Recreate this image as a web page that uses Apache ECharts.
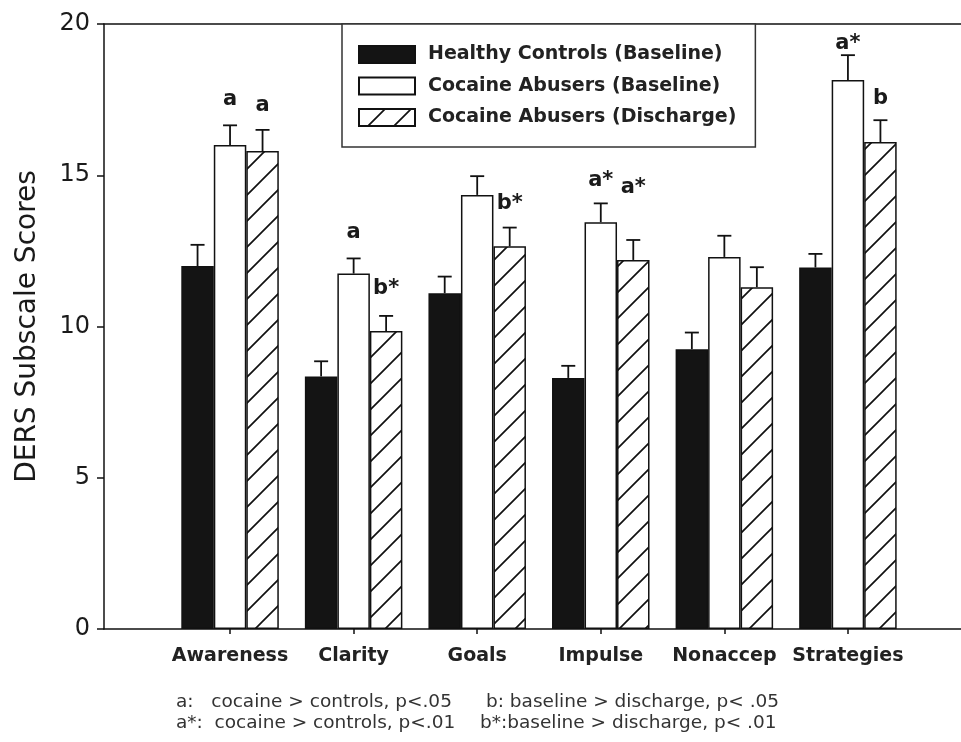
<!DOCTYPE html>
<html>
<head>
<meta charset="utf-8">
<script src="https://cdn.jsdelivr.net/npm/echarts@6/dist/echarts.min.js"></script>
<style>
  html, body { margin: 0; padding: 0; background: #fff; }
  #main { width: 961px; height: 742px; }
</style>
</head>
<body>
<div id="main"></div>
<script>
// data
var categories = ['Awareness', 'Clarity', 'Goals', 'Impulse', 'Nonaccep', 'Strategies'];
var seriesNames = ['Healthy Controls (Baseline)', 'Cocaine Abusers (Baseline)', 'Cocaine Abusers (Discharge)'];

var controls = [12.0, 8.35, 11.1, 8.3, 9.25, 11.95];
var controlsErr = [0.7, 0.5, 0.55, 0.4, 0.55, 0.45];
var cocaineBase = [16.0, 11.75, 14.35, 13.45, 12.3, 18.15];
var cocaineBaseErr = [0.65, 0.5, 0.62, 0.62, 0.7, 0.82];
var cocaineDis = [15.8, 9.85, 12.65, 12.2, 11.3, 16.1];
var cocaineDisErr = [0.7, 0.5, 0.62, 0.66, 0.66, 0.72];

// significance marks and where they sit (y value of the text)
var marksBase = ['a', 'a', '', 'a*', '', 'a*'];
var marksBaseY = [17.49, 13.09, null, 14.84, null, 19.37];
var marksDis = ['a', 'b*', 'b*', 'a*', '', 'b'];
var marksDisY = [17.32, 11.27, 14.08, 14.58, null, 17.55];

var yTicks = [0, 5, 10, 15, 20];
var notes = [
    ['a:   cocaine > controls, p<.05', 'b: baseline > discharge, p< .05'],
    ['a*:  cocaine > controls, p<.01', 'b*:baseline > discharge, p< .01']
];

var FONT = 'DejaVu Sans';
var BAR_W = 32.5;

function hatch() {
    var s = 26;
    var c = document.createElement('canvas');
    c.width = s; c.height = s;
    var ctx = c.getContext('2d');
    ctx.fillStyle = '#fff';
    ctx.fillRect(0, 0, s, s);
    ctx.strokeStyle = '#111';
    ctx.lineWidth = 1.7;
    ctx.beginPath();
    ctx.moveTo(-2, s + 2); ctx.lineTo(s + 2, -2);
    ctx.moveTo(-2, 2); ctx.lineTo(2, -2);
    ctx.moveTo(s - 2, s + 2); ctx.lineTo(s + 2, s - 2);
    ctx.stroke();
    return c;
}

function pairs(vals) {
    return vals.map(function (v, i) { return [i, v]; });
}

var fills = ['#141414', '#ffffff', { image: hatch(), repeat: 'repeat' }];
var means = [controls, cocaineBase, cocaineDis];
var errs = [controlsErr, cocaineBaseErr, cocaineDisErr];
var marks = [null, marksBase, marksDis];
var marksY = [null, marksBaseY, marksDisY];
var offsets = [-BAR_W, 0, BAR_W];

var dom = document.getElementById('main');
var myChart = echarts.init(dom, null, { renderer: 'canvas' });

var series = [];
seriesNames.forEach(function (name, k) {
    series.push({
        name: name,
        type: 'bar',
        xAxisIndex: 0,
        barWidth: BAR_W,
        barGap: '0%',
        itemStyle: { color: fills[k], borderColor: '#111', borderWidth: 1.5 },
        emphasis: { disabled: true },
        data: pairs(means[k])
    });
});
seriesNames.forEach(function (name, k) {
    series.push({
        type: 'custom',
        xAxisIndex: 0,
        z: 5,
        silent: true,
        data: means[k].map(function (m, i) { return [i, m, errs[k][i]]; }),
        renderItem: function (params, api) {
            var i = api.value(0), m = api.value(1), e = api.value(2);
            var p0 = api.coord([i, m]);
            var p1 = api.coord([i, m + e]);
            var x = p0[0] + offsets[k];
            var st = { stroke: '#111', lineWidth: 1.8 };
            var kids = [
                { type: 'line', shape: { x1: x, y1: p0[1], x2: x, y2: p1[1] }, style: st },
                { type: 'line', shape: { x1: x - 7, y1: p1[1], x2: x + 7, y2: p1[1] }, style: st }
            ];
            if (marks[k] && marks[k][params.dataIndex]) {
                var pt = api.coord([i, marksY[k][params.dataIndex]]);
                kids.push({
                    type: 'text',
                    style: {
                        x: x, y: pt[1], text: marks[k][params.dataIndex],
                        align: 'center', verticalAlign: 'middle',
                        font: 'bold 21px "' + FONT + '"', fill: '#1a1a1a'
                    }
                });
            }
            return { type: 'group', children: kids };
        }
    });
});

var graphics = [];
notes.forEach(function (row, r) {
    graphics.push({ type: 'text', left: 176, top: 693 + r * 21, style: { text: row[0], font: '18.5px "' + FONT + '"', fill: '#333' } });
    graphics.push({ type: 'text', left: r === 0 ? 486 : 480, top: 693 + r * 21, style: { text: row[1], font: '18.5px "' + FONT + '"', fill: '#333' } });
});

var option = {
    animation: false,
    backgroundColor: '#fff',
    textStyle: { fontFamily: FONT },
    grid: { left: 104, right: 0, top: 24, bottom: 113, containLabel: false },
    legend: {
        data: seriesNames,
        orient: 'vertical',
        left: 342,
        top: 24,
        icon: 'rect',
        itemWidth: 56,
        itemHeight: 17,
        itemGap: 12.5,
        padding: [21, 19, 20, 16],
        borderColor: '#333',
        borderWidth: 1.5,
        backgroundColor: '#fff',
        selectedMode: false,
        textStyle: { fontSize: 19, fontWeight: 'bold', color: '#222', fontFamily: FONT, padding: [0, 0, 0, 8] }
    },
    xAxis: [
        {
            type: 'value',
            min: -1.02,
            max: 5.915,
            splitLine: { show: false },
            axisLine: { onZero: false, lineStyle: { color: '#111', width: 1.5 } },
            axisTick: { customValues: [0, 1, 2, 3, 4, 5], length: 5, lineStyle: { color: '#111', width: 1.5 } },
            axisLabel: {
                customValues: [0, 1, 2, 3, 4, 5],
                margin: 18,
                fontSize: 19,
                fontWeight: 'bold',
                color: '#222',
                formatter: function (v) { return categories[Math.round(v)] || ''; }
            }
        },
        {
            type: 'value',
            position: 'top',
            min: -1.02,
            max: 5.915,
            splitLine: { show: false },
            axisLine: { show: true, onZero: false, lineStyle: { color: '#111', width: 1.5 } },
            axisTick: { show: false },
            axisLabel: { show: false }
        }
    ],
    yAxis: {
        type: 'value',
        min: yTicks[0],
        max: yTicks[yTicks.length - 1],
        interval: 5,
        name: 'DERS Subscale Scores',
        nameLocation: 'middle',
        nameGap: 62,
        nameTextStyle: { fontSize: 28, color: '#1a1a1a' },
        splitLine: { show: false },
        axisLine: { show: true, onZero: false, lineStyle: { color: '#111', width: 1.5 } },
        axisTick: { show: true, length: 7, lineStyle: { color: '#111', width: 1.5 } },
        axisLabel: { margin: 14, fontSize: 24, color: '#1a1a1a' }
    },
    graphic: graphics,
    series: series
};

myChart.setOption(option);
window.addEventListener('resize', myChart.resize);
</script>
</body>
</html>
